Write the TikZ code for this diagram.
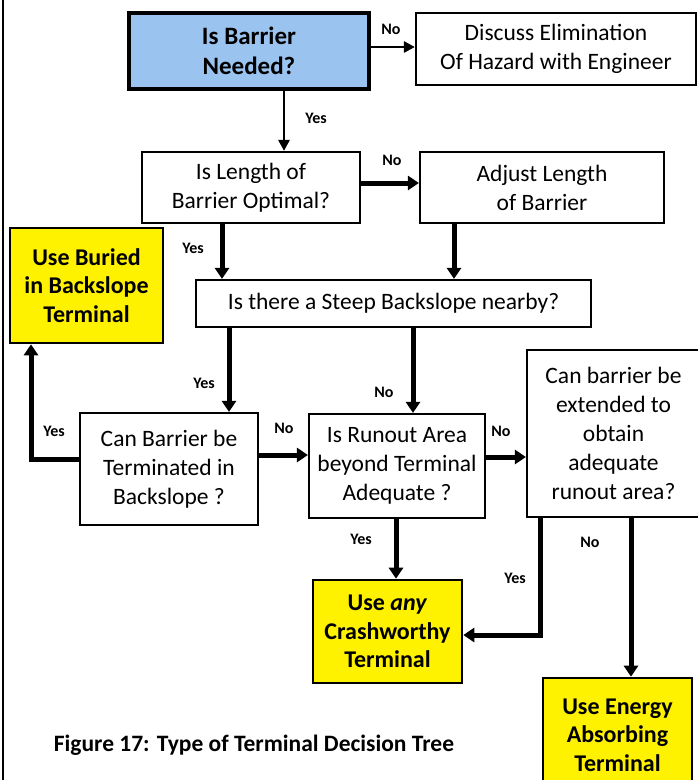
\documentclass[tikz,border=0pt]{standalone}
\usepackage{fontspec}
\setmainfont{Carlito}
\usetikzlibrary{arrows.meta, positioning, calc}
\definecolor{askblue}{RGB}{155,195,240}
\tikzset{
    box/.style={draw, line width=2.2pt, align=center, inner sep=1pt,
        font=\fontsize{23.5}{29}\selectfont},
    startbox/.style={box, line width=4.5pt, fill=askblue,
        font=\fontsize{25}{30}\selectfont\bfseries},
    endbox/.style={box, line width=2.6pt, fill=yellow,
        font=\fontsize{24}{28.5}\selectfont\bfseries},
    lbl/.style={font=\fontsize{16}{18}\selectfont\bfseries, inner sep=0pt},
    thin arrow/.style={line width=2.8pt, -{Triangle[length=11pt, width=11pt]}},
    thick arrow/.style={line width=5pt, -{Triangle[length=11pt, width=14pt]}}
}
\begin{document}
\begin{tikzpicture}[x=1pt, y=-1pt]
    \useasboundingbox (0,0) rectangle (697,780);
    % frame
    \draw[line width=2pt] (3,0) -- (3,780);
    % questions
    \node[startbox, minimum width=240, minimum height=76] (need) at (249,51) {Is Barrier\\Needed?};
    \node[box, minimum width=280, minimum height=72] (elim) at (556,49) {Discuss Elimination\\Of Hazard with Engineer};
    \node[box, minimum width=218, minimum height=71] (len) at (251,187.5) {Is Length of\\Barrier Optimal?};
    \node[box, minimum width=244, minimum height=71] (adj) at (542,187.5) {Adjust Length\\of Barrier};
    \node[box, minimum width=395, minimum height=47] (steep) at (393.5,303.5) {Is there a Steep Backslope nearby?};
    \node[box, minimum width=178, minimum height=112] (termin) at (169,469) {Can Barrier be\\Terminated in\\Backslope ?};
    \node[box, minimum width=176, minimum height=104] (runout) at (397,466) {Is Runout Area\\beyond Terminal\\Adequate ?};
    \node[box, minimum width=173, minimum height=167] (extend) at (613.5,433.5) {Can barrier be\\extended to\\obtain\\adequate\\runout area?};
    % results
    \node[endbox, minimum width=153, minimum height=115] (buried) at (86.5,285.5) {Use Buried\\in Backslope\\Terminal};
    \node[endbox, minimum width=149, minimum height=103] (crash) at (387.5,631.5) {Use \textit{any}\\Crashworthy\\Terminal};
    \node[endbox, minimum width=149, minimum height=114] (energy) at (617.5,735) {Use Energy\\Absorbing\\Terminal};
    % connectors
    \draw[thin arrow] (need.east |- 0,47) -- (elim.west |- 0,47);
    \draw[thin arrow] (need.south -| 284,0) -- (len.north -| 284,0);
    \draw[thick arrow] (len.east |- 0,183) -- (adj.west |- 0,183);
    \draw[thick arrow] (len.south -| 222,0) -- (steep.north -| 222,0);
    \draw[thick arrow] (adj.south -| 454,0) -- (steep.north -| 454,0);
    \draw[thick arrow] (steep.south -| 229,0) -- (termin.north -| 229,0);
    \draw[thick arrow] (steep.south -| 413,0) -- (runout.north -| 413,0);
    \draw[thick arrow] (termin.west |- 0,459) -| (buried.south -| 31,0);
    \draw[thick arrow] (termin.east |- 0,455) -- (runout.west |- 0,455);
    \draw[thick arrow] (runout.east |- 0,457) -- (extend.west |- 0,457);
    \draw[thick arrow] (runout.south -| 396,0) -- (crash.north -| 396,0);
    \draw[thick arrow] (extend.south -| 540,0) |- (crash.east |- 0,635);
    \draw[thick arrow] (extend.south -| 631,0) -- (energy.north -| 631,0);
    % labels
    \node[lbl] (l1) at (391,29) {No};
    \node[lbl] (l2) at (316,118) {Yes};
    \node[lbl] (l3) at (392,160) {No};
    \node[lbl] (l4) at (193,248) {Yes};
    \node[lbl] (l5) at (204,383) {Yes};
    \node[lbl] (l6) at (384,392) {No};
    \node[lbl] (l7) at (54,431) {Yes};
    \node[lbl] (l8) at (284,428) {No};
    \node[lbl] (l9) at (501,431) {No};
    \node[lbl] (l10) at (361,539) {Yes};
    \node[lbl] (l11) at (515,578) {Yes};
    \node[lbl] (l12) at (590,542) {No};
    % caption
    \node[font=\fontsize{23.5}{26}\selectfont\bfseries] (cap) at (254,745) {Figure 17: Type of Terminal Decision Tree};
\end{tikzpicture}
\end{document}
